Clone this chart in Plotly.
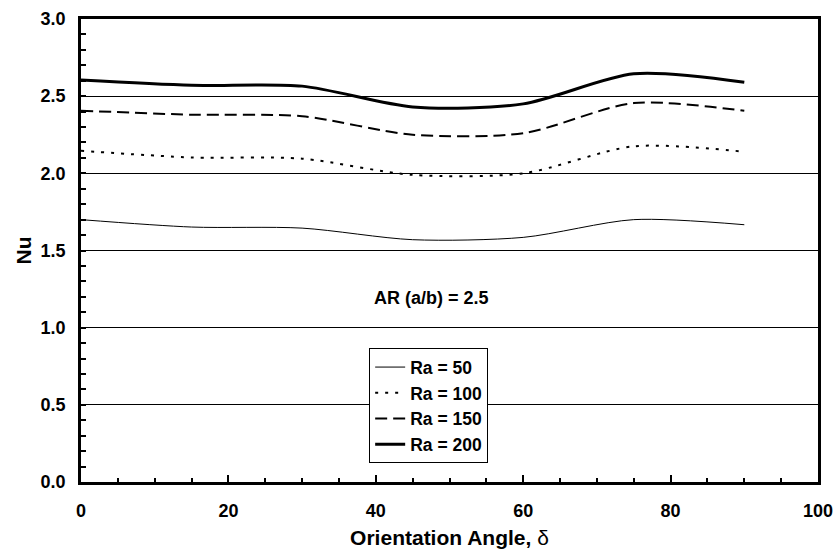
import plotly.graph_objects as go

angles = [0, 15, 30, 45, 60, 75, 90]
ra50 = [1.70, 1.652, 1.645, 1.57, 1.585, 1.70, 1.667]
ra100 = [2.146, 2.103, 2.095, 1.99, 2.00, 2.175, 2.14]
ra150 = [2.406, 2.38, 2.37, 2.25, 2.26, 2.455, 2.405]
ra200 = [2.604, 2.57, 2.565, 2.43, 2.45, 2.645, 2.59]

names = ["Ra = 50", "Ra = 100", "Ra = 150", "Ra = 200"]
series = [ra50, ra100, ra150, ra200]
widths = [1, 2, 2, 3]
dashes = ["solid", "3px,7px", "12px,6px", "solid"]

FONT = "Liberation Sans, Arial, sans-serif"

fig = go.Figure()
for nm, ys, w, d in zip(names, series, widths, dashes):
    fig.add_trace(go.Scatter(
        x=angles, y=ys, name=nm, mode="lines",
        line=dict(color="black", width=w, dash=d, shape="spline", smoothing=0.8),
    ))

fig.add_annotation(x=47.5, y=1.19, text="AR (a/b) = 2.5", showarrow=False,
                   font=dict(family=FONT, size=18, color="black", weight="bold"))

fig.update_layout(
    width=837, height=554,
    margin=dict(l=81, r=19, t=19, b=72),
    paper_bgcolor="white", plot_bgcolor="white",
    font=dict(family=FONT, color="black"),
    showlegend=True,
    legend=dict(x=0.391, y=0.289, xanchor="left", yanchor="top",
                bgcolor="white", bordercolor="black", borderwidth=1,
                font=dict(family=FONT, size=17.5, color="black", weight="bold"),
                itemwidth=30),
)

fig.update_xaxes(
    range=[0, 100], dtick=20, tick0=0, automargin=False,
    showgrid=False, zeroline=False,
    showline=True, linecolor="black", linewidth=2.5, mirror=True,
    ticks="inside", ticklen=7, tickwidth=1.5, tickcolor="black",
    minor=dict(dtick=5, ticks="inside", ticklen=4, tickwidth=1.5, tickcolor="black", showgrid=False),
    tickfont=dict(family=FONT, size=18, color="black", weight="bold"),
    ticklabelstandoff=11,
    title=dict(text="Orientation Angle, <span style='font-weight:normal'>δ</span>",
               font=dict(family=FONT, size=21, color="black", weight="bold"), standoff=10),
)
fig.update_yaxes(
    range=[0, 3.0], dtick=0.5, tick0=0, tickformat=".1f", automargin=False,
    showgrid=True, gridcolor="black", gridwidth=1, zeroline=False,
    showline=True, linecolor="black", linewidth=2.5, mirror=True,
    ticks="inside", ticklen=5, tickwidth=1.5, tickcolor="black",
    minor=dict(dtick=0.1, ticks="inside", ticklen=5, tickwidth=1.5, tickcolor="black", showgrid=False),
    tickfont=dict(family=FONT, size=18, color="black", weight="bold"),
    ticklabelstandoff=9,
    title=dict(text="Nu", font=dict(family=FONT, size=21, color="black", weight="bold"), standoff=4),
)

fig.write_html("out.html")
